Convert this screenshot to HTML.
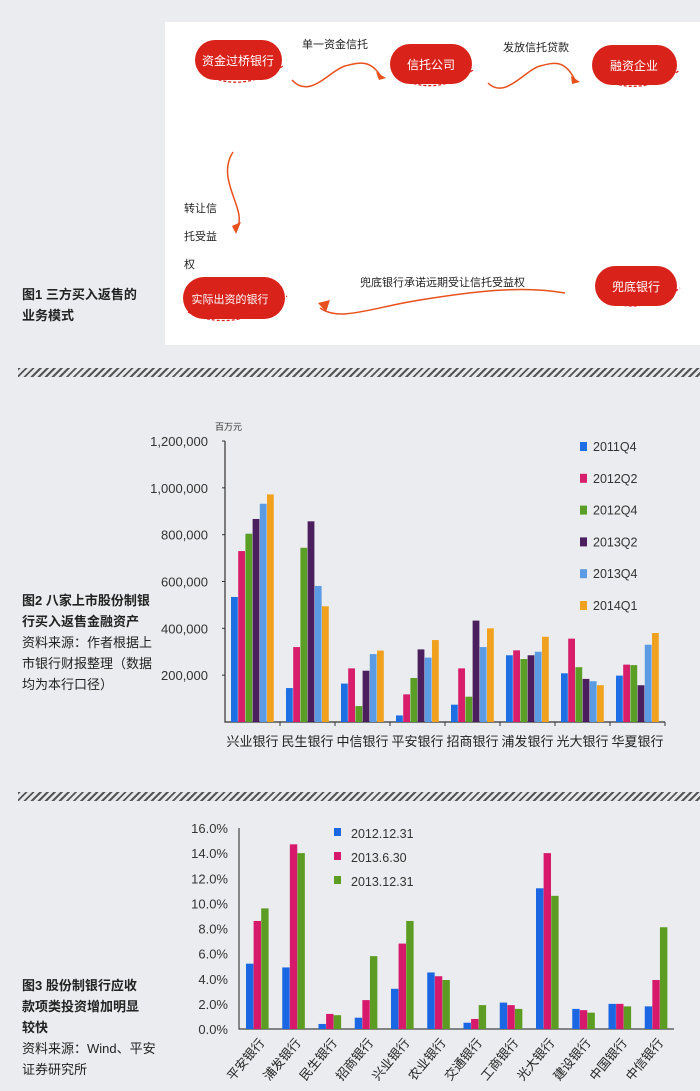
<!DOCTYPE html>
<html><head><meta charset="utf-8">
<style>
body{margin:0;width:700px;height:1091px;background:#eaecef;font-family:"Liberation Sans","Noto Sans CJK SC",sans-serif;position:relative;overflow:hidden}
.abs{position:absolute}
.band{position:absolute;left:18px;right:0;height:9px;background:repeating-linear-gradient(135deg,#555 0 2px,#e6e8eb 2px 5px)}
.cap{position:absolute;left:22px;font-size:13px;line-height:21px;color:#222}
</style></head><body>
<svg class="abs" style="left:0;top:0" width="700" height="1091">
 <g>
  <rect x="165" y="22" width="535" height="323" fill="#fff"/>
  <g font-size="11" fill="#222">
   <text x="302" y="48">单一资金信托</text>
   <text x="503" y="51">发放信托贷款</text>
   <text x="184" y="212">转让信</text><text x="184" y="240">托受益</text><text x="184" y="268">权</text>
   <text x="360" y="286">兜底银行承诺远期受让信托受益权</text>
  </g>
  <g fill="none" stroke="#e8501c" stroke-width="1.5">
   <path d="M292 80 C310 100 330 70 345 66 S370 60 380 75"/>
   <path d="M488 83 C505 100 525 70 540 66 S565 60 575 80"/>
   <path d="M233 152 C215 180 248 210 237 228"/>
   <path d="M565 293 C520 285 470 292 420 300 S340 322 320 308"/>
  </g>
  <g fill="#e8501c"><path d="M376 72 L386 78 L379 80Z"/><path d="M571 76 L580 82 L572 84Z"/><path d="M232 226 L241 222 L236 234Z"/><path d="M318 303 L330 300 L326 312Z"/></g>
  <g fill="#d9221a">
   <rect x="195" y="40" width="87" height="40" rx="20"/><rect x="390" y="44" width="82" height="40" rx="20"/>
   <rect x="592" y="45" width="85" height="40" rx="20"/><rect x="183" y="277" width="102" height="42" rx="21"/>
   <rect x="595" y="266" width="82" height="40" rx="20"/>
  </g>
  <g fill="none" stroke="#d9221a" stroke-width="1.3" stroke-dasharray="3,2">
   <path d="M200 72 Q240 95 283 66"/><path d="M395 76 Q435 98 473 70"/><path d="M600 78 Q640 98 680 70"/>
   <path d="M188 312 Q235 335 287 296"/><path d="M600 298 Q640 318 680 288"/>
  </g>
  <g font-size="12" fill="#fff" text-anchor="middle">
   <text x="238" y="65">资金过桥银行</text><text x="431" y="69">信托公司</text><text x="634" y="70">融资企业</text>
   <text x="230" y="303" font-size="11">实际出资的银行</text><text x="636" y="291">兜底银行</text>
  </g>
 </g>
</svg>
<div class="cap" style="top:284px;font-weight:bold">图1 三方买入返售的<br>业务模式</div>
<div class="band" style="top:368px"></div>
<div class="band" style="top:792px"></div>
<div class="cap" style="top:590px"><b>图2 八家上市股份制银<br>行买入返售金融资产</b><br>资料来源：作者根据上<br>市银行财报整理（数据<br>均为本行口径）</div>
<div class="cap" style="top:975px"><b>图3 股份制银行应收<br>款项类投资增加明显<br>较快</b><br>资料来源：Wind、平安<br>证券研究所</div>

<svg id="c2" class="abs" style="left:0;top:0" width="700" height="1091"></svg>
<script>
const c2Cats=["兴业银行","民生银行","中信银行","平安银行","招商银行","浦发银行","光大银行","华夏银行"];
const c2Series=["2011Q4","2012Q2","2012Q4","2013Q2","2013Q4","2014Q1"];
const c2_2011Q4=[534,145,164,28,74,285,208,198];
const c2_2012Q2=[730,320,229,118,229,306,356,245];
const c2_2012Q4=[804,744,68,188,108,269,234,243];
const c2_2013Q2=[867,857,219,310,433,285,184,157];
const c2_2013Q4=[932,581,290,275,320,300,174,330];
const c2_2014Q1=[972,494,305,350,400,364,157,380];
const c2Ticks=[200000,400000,600000,800000,1000000,1200000];
const c2TickLabels=["200,000","400,000","600,000","800,000","1,000,000","1,200,000"];

const c3Cats=["平安银行","浦发银行","民生银行","招商银行","兴业银行","农业银行","交通银行","工商银行","光大银行","建设银行","中国银行","中信银行"];
const c3Series=["2012.12.31","2013.6.30","2013.12.31"];
const c3_A=[5.2,4.9,0.4,0.9,3.2,4.5,0.5,2.1,11.2,1.6,2.0,1.8];
const c3_B=[8.6,14.7,1.2,2.3,6.8,4.2,0.8,1.9,14.0,1.5,2.0,3.9];
const c3_C=[9.6,14.0,1.1,5.8,8.6,3.9,1.9,1.6,10.6,1.3,1.8,8.1];
const c3TickLabels=["0.0%","2.0%","4.0%","6.0%","8.0%","10.0%","12.0%","14.0%","16.0%"];
const c3Ticks=[0,2,4,6,8,10,12,14,16];

const NS="http://www.w3.org/2000/svg";
function mk(p,t,a){const e=document.createElementNS(NS,t);for(const k in a)e.setAttribute(k,a[k]);p.appendChild(e);return e;}
const svg=document.getElementById('c2');
const FONT='"Liberation Sans","Noto Sans CJK SC",sans-serif';

const x0=225,x1=665,yZ=722,yTop=441;
const y2=v=>yZ-(v/1200000)*(yZ-yTop);
const gw=(x1-x0)/c2Cats.length;
const c2Vals=[c2_2011Q4,c2_2012Q2,c2_2012Q4,c2_2013Q2,c2_2013Q4,c2_2014Q1];
const c2Cols=["#1e6fe3","#d81d6b","#5a9e26","#4b1e5e","#5a9be3","#f0a21e"];
let ax=mk(svg,'path',{d:`M${x0} ${yTop} V${yZ} H${x1}`,stroke:'#333','stroke-width':1.2,fill:'none'});


for(let i=0;i<c2Ticks.length;i++){
 const y=y2(c2Ticks[i]);
 mk(svg,'line',{x1:x0-3,x2:x0,y1:y,y2:y,stroke:'#333'});
 const t=mk(svg,'text',{x:208,y:y+5,'text-anchor':'end','font-size':13,fill:'#333','font-family':FONT});
 t.textContent=c2TickLabels[i];
 
 
}
let u=mk(svg,'text',{x:215,y:430,'font-size':9,fill:'#333','font-family':FONT});u.textContent="百万元";


for(let g=0;g<c2Cats.length;g++){
 const gx=x0+g*gw;
 mk(svg,'line',{x1:gx+gw,x2:gx+gw,y1:yZ,y2:yZ+4,stroke:'#333'});
 for(let s=0;s<6;s++){
  const r=mk(svg,'rect',{x:gx+6+s*7.2,y:y2(c2Vals[s][g]*1000),width:6.8,height:yZ-y2(c2Vals[s][g]*1000),fill:c2Cols[s]});
  
  
 }
 const t=mk(svg,'text',{x:gx+gw/2,y:yZ+24,'text-anchor':'middle','font-size':13,fill:'#222','font-family':FONT});
 t.textContent=c2Cats[g];
 
 
}
for(let s=0;s<6;s++){
 const y=447+s*31.8;
 const r=mk(svg,'rect',{x:580,y:y-5,width:7,height:9,fill:c2Cols[s]});
 
 
 const t=mk(svg,'text',{x:593,y:y+4,'font-size':12.5,fill:'#333','font-family':FONT});
 t.textContent=c2Series[s];
 
 
}

const X0=239,X1=674,YZ=1029,YT=828;
const y3=v=>YZ-(v/16)*(YZ-YT);
const gw3=(X1-X0)/c3Cats.length;
const c3Vals=[c3_A,c3_B,c3_C];
const c3Cols=["#1a66e3","#d6196b","#5c9c22"];
ax=mk(svg,'path',{d:`M${X0} ${YT} V${YZ} H${X1}`,stroke:'#444','stroke-width':1.2,fill:'none'});


for(let i=0;i<c3Ticks.length;i++){
 const y=y3(c3Ticks[i]);
 const t=mk(svg,'text',{x:228,y:y+5,'text-anchor':'end','font-size':13,fill:'#333','font-family':FONT});
 t.textContent=c3TickLabels[i];
 
 
}
for(let g=0;g<c3Cats.length;g++){
 const gx=X0+g*gw3;
 for(let s=0;s<3;s++){
  const r=mk(svg,'rect',{x:gx+7+s*7.6,y:y3(c3Vals[s][g]),width:7.4,height:YZ-y3(c3Vals[s][g]),fill:c3Cols[s]});
  
  
 }
 const cx=gx+gw3/2+8, cy=YZ+14;
 const t=mk(svg,'text',{x:cx,y:cy,'text-anchor':'end','font-size':12.5,fill:'#222','font-family':FONT,transform:`rotate(-50 ${cx} ${cy})`});
 t.textContent=c3Cats[g];
 
 
}
for(let s=0;s<3;s++){
 const y=833+s*24;
 const r=mk(svg,'rect',{x:334,y:y-5,width:7,height:8,fill:c3Cols[s]});
 
 
 const t=mk(svg,'text',{x:351,y:y+5,'font-size':12.5,fill:'#333','font-family':FONT});
 t.textContent=c3Series[s];
 
 
}
</script>
</body></html>
